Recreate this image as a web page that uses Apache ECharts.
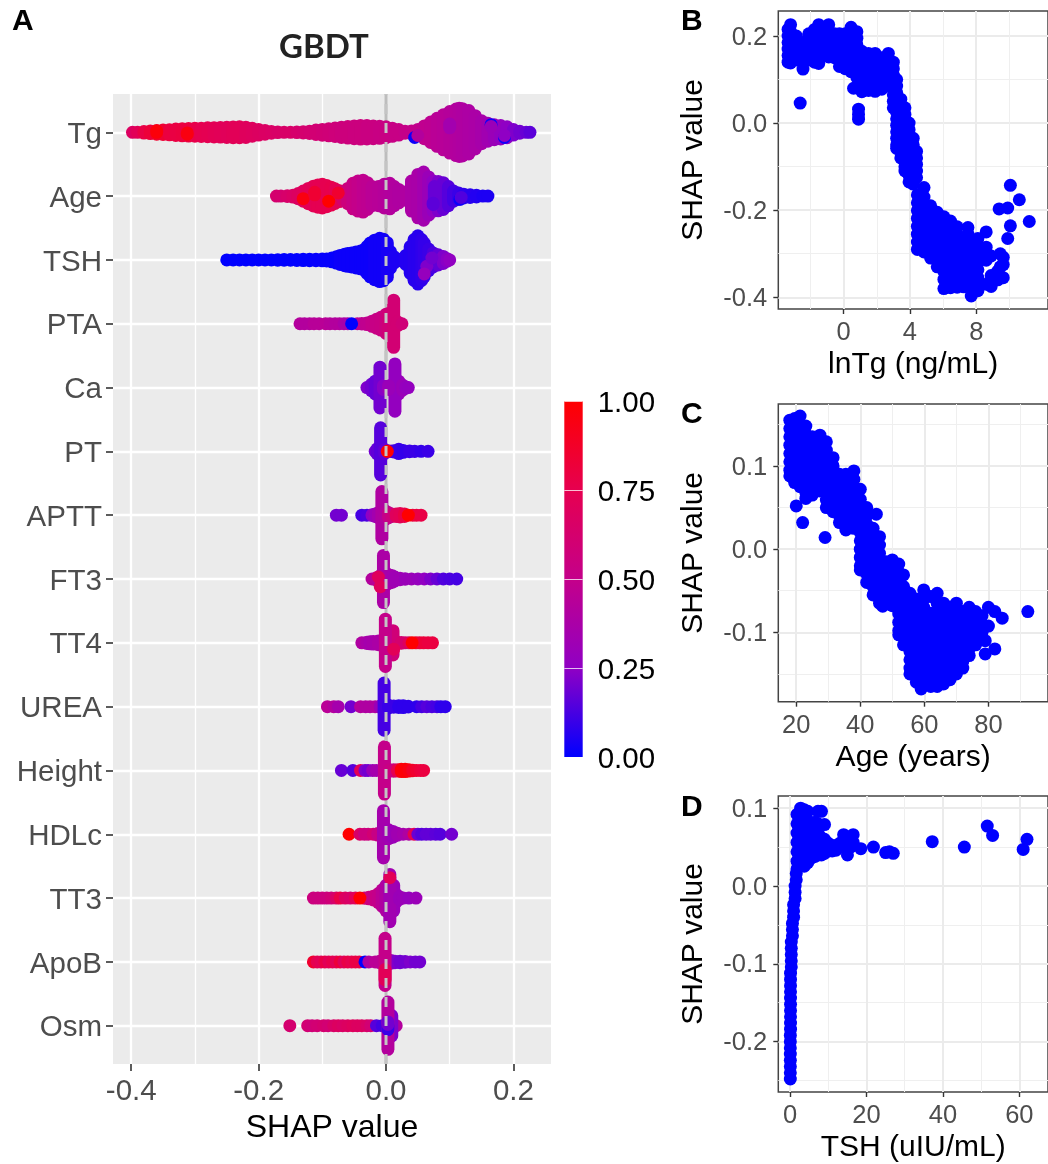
<!DOCTYPE html>
<html><head><meta charset="utf-8">
<style>html,body{margin:0;padding:0;background:#fff}#c{width:1048px;height:1164px}</style>
<script src="https://cdn.jsdelivr.net/npm/echarts@6/dist/echarts.min.js"></script>
</head><body><div id="c"></div>
<script>
// ---------- Panel A: features, top to bottom ----------
const features = ['Tg','Age','TSH','PTA','Ca','PT','APTT','FT3','TT4','UREA','Height','HDLc','TT3','ApoB','Osm'];
// each entry: [SHAP value, half spread of the swarm (row units), feature value 0..1, optional centre shift]
const swarmTg = [[-.398,0,.68],[-.39,0,.72],[-.38,.012,.78],[-.37,.02,.82],[-.36,.03,.86],[-.35,.035,.84],[-.34,.04,.8],[-.33,.05,.79],[-.32,.055,.8],[-.31,.06,.8],[-.30,.062,.77],[-.29,.065,.75],[-.28,.07,.74],[-.27,.072,.73],[-.26,.075,.72],[-.25,.08,.71],[-.24,.084,.72],[-.23,.086,.72],[-.22,.08,.7],[-.21,.062,.69],[-.20,.044,.68],[-.19,.03,.67],[-.18,.014,.66],[-.17,.005,.65],[-.16,0,.65],[-.15,0,.65],[-.14,.004,.63],[-.13,.01,.62],[-.12,.018,.61],[-.11,.034,.6],[-.10,.045,.59],[-.09,.055,.58],[-.08,.066,.57],[-.07,.08,.56],[-.06,.09,.56],[-.05,.1,.55],[-.04,.107,.55],[-.03,.105,.54],[-.02,.1,.54],[-.01,.094,.53],[0,.086,.53],[.01,.064,.52],[.02,.044,.52],[.03,.015,.51],[.04,.02,.5],[.05,.045,.49],[.06,.1,.48],[.07,.16,.47],[.08,.22,.45],[.09,.275,.44],[.10,.325,.43],[.11,.365,.42],[.115,.378,.41],[.12,.37,.4],[.13,.34,.39],[.14,.26,.38],[.15,.18,.36],[.16,.14,.33],[.17,.117,.3],[.18,.105,.27],[.19,.085,.25],[.20,.044,.22],[.21,.015,.2],[.22,0,.18],[.226,0,.16],[.045,0,.02,-.08],[.05,0,.42,-.05],[.165,0,.02,.12],[.165,0,.3,.09],[.186,0,.02,-.08],[.186,0,.25,-.05],[-.36,.01,.97,.01],[-.312,.01,.95,-.02],[.1,.03,.34,.1]];
const swarmAge = [[-.172,0,.62],[-.165,0,.62],[-.155,.005,.64],[-.146,.015,.66],[-.138,.04,.68],[-.13,.08,.7],[-.122,.12,.72],[-.114,.155,.73],[-.107,.175,.74],[-.10,.185,.74],[-.093,.165,.75],[-.086,.14,.76],[-.08,.115,.74],[-.073,.085,.7],[-.067,.07,.62],[-.06,.12,.56],[-.052,.2,.52],[-.044,.235,.5],[-.036,.25,.48],[-.029,.21,.47],[-.022,.15,.45],[-.012,.15,.44],[-.003,.185,.43],[.006,.2,.42],[.013,.15,.41],[.02,.105,.4],[.03,.065,.4],[.04,.235,.38],[.05,.34,.37],[.059,.378,.34],[.067,.3,.3],[.074,.235,.26],[.082,.23,.22],[.09,.21,.18],[.098,.15,.15],[.106,.08,.12],[.114,.05,.1],[.122,.03,.08],[.132,.02,.07],[.142,.013,.06],[.152,0,.05],[.16,0,.05],[-.09,0,1,-.08],[-.13,0,.95,-.04],[-.112,.02,.84,.04],[-.075,0,.85,.05],[.116,0,.02,-.05],[.118,0,.14,-.02],[.076,.1,.18,.05],[.074,.01,.16,-.12]];
const swarmTSH = [[-.25,0,0],[-.24,0,0],[-.23,0,0],[-.22,0,0],[-.21,0,0],[-.20,0,0],[-.19,0,0],[-.18,0,0],[-.17,.004,0],[-.16,.005,0],[-.15,.005,0],[-.14,.008,0],[-.13,.01,0],[-.12,.012,0],[-.11,.012,.01],[-.10,.014,.01],[-.093,.016,.01],[-.085,.03,.01],[-.078,.05,.01],[-.072,.07,.02],[-.065,.09,.02],[-.06,.1,.02],[-.054,.11,.02],[-.047,.125,.02],[-.04,.14,.02],[-.036,.15,.02],[-.03,.21,.02],[-.025,.265,.02],[-.018,.31,.03],[-.01,.34,.03],[-.004,.325,.03],[.002,.27,.04],[.007,.13,.04],[.012,.055,.05],[.018,.015,.05],[.025,0,.05],[.031,.07,.06],[.038,.21,.06],[.044,.32,.07],[.05,.378,.07],[.056,.32,.08],[.06,.265,.09],[.067,.17,.1],[.074,.11,.13],[.082,.08,.17],[.09,.055,.22],[.096,.02,.24],[.10,0,.26],[.064,0,.22,-.1],[.06,0,.28,-.22],[.072,0,.2,.03]];
const swarmPTA = [[-.135,0,.42],[-.128,0,.42],[-.12,0,.42],[-.113,0,.44],[-.105,0,.44],[-.095,0,.45],[-.088,0,.43],[-.08,0,.42],[-.073,0,.42],[-.066,0,.38],[-.06,0,.36],[-.045,0,.45],[-.038,.004,.47],[-.03,.013,.48],[-.022,.04,.5],[-.015,.07,.52],[-.008,.1,.53],[0,.15,.55],[.004,.16,.58],[.012,.37,.6],[.018,.03,.6],[.025,0,.58],[-.054,0,0]];
const swarmCa = [[-.03,0,.22],[-.023,.05,.2],[-.017,.1,.18],[-.0095,.32,.2],[-.004,.03,.24],[.02,.1,.3],[.014,.37,.27],[.026,.04,.3],[.031,.01,.28],[.035,0,.27],[.004,.03,.3]];
const swarmPT = [[-.017,0,.2],[-.014,.04,.17],[-.0085,.37,.15],[-.002,.03,.17],[.006,.004,.2],[.012,.01,.12],[.02,.035,.1],[.027,.015,.09],[.037,.005,.1],[.045,.002,.1],[.055,0,.09],[.066,0,.1],[.002,0,1]];
const swarmAPTT = [[-.078,0,.2],[-.07,0,.2],[-.038,0,.12],[-.03,0,.13],[-.022,.005,.25],[-.017,.02,.3],[-.012,.04,.34],[-.0065,.37,.4],[.0,.06,.42],[.004,.04,.5],[.009,.02,.55],[.016,.02,.7],[.022,.028,.72],[.029,.02,.78],[.042,0,.82],[.048,0,.8],[.055,0,.78],[.035,0,1]];
const swarmFT3 = [[-.022,0,.42],[-.015,.02,.45],[-.008,.06,.42],[-.004,.37,.38],[.002,.08,.36],[.006,.06,.36],[.01,.05,.34],[.014,.03,.32],[.022,.012,.32],[.03,.004,.3],[.04,0,.3],[.05,0,.28],[.06,0,.26],[.07,0,.22],[.08,0,.18],[.09,0,.14],[.1,0,.13],[.111,0,.12],[-.012,0,.7,.03],[-.009,0,.7,-.12]];
const swarmTT4 = [[-.038,0,.4],[-.03,.01,.37],[-.025,.016,.35],[-.02,.02,.36],[-.012,.03,.38],[.016,.02,.6],[.011,.19,.58],[-.001,.37,.5],[.024,.005,.62],[.03,0,.62],[.036,0,.7],[.047,0,.85],[.053,0,.82],[.059,0,.82],[.066,0,.8],[.073,0,.8],[.041,0,1],[.012,0,.72,-.1]];
const swarmUREA = [[-.092,0,.45],[-.082,0,.42],[-.075,0,.35],[-.055,0,.2],[-.04,0,.42],[-.032,0,.4],[-.025,0,.4],[-.017,0,.4],[-.009,.01,.3],[-.003,.37,.12],[.004,.02,.1],[.012,.01,.1],[.02,.012,.08],[.027,.015,.08],[.035,.005,.08],[.048,0,.08],[.056,0,.12],[.064,0,.15],[.072,0,.13],[.08,0,.12],[.086,0,.08],[.093,0,.08]];
const swarmHeight = [[-.07,0,.18],[-.052,0,.15],[-.04,0,.72],[-.033,0,.22],[-.028,0,.2],[-.021,0,.3],[-.015,0,.35],[-.0025,.37,.5],[.005,.01,.52],[.012,.012,.55],[.018,.01,.75],[.024,.018,.97],[.03,.018,.98],[.036,.01,.95],[.042,.005,.88],[.048,0,.85],[.054,0,.82],[.059,0,.8]];
const swarmHDLc = [[-.058,0,1],[-.041,0,.65],[-.034,0,.55],[-.028,0,.55],[-.02,0,.6],[-.013,.012,.52],[-.004,.37,.35],[.004,.07,.33],[.011,.045,.3],[.018,.015,.33],[.027,0,.35],[.036,0,.4],[.044,0,.75],[.05,0,.18],[.056,0,.15],[.063,0,.17],[.07,0,.17],[.078,0,.16],[.085,0,.15],[.103,0,.2]];
const swarmTT3 = [[-.114,0,.55],[-.107,0,.55],[-.1,0,.55],[-.093,0,.55],[-.086,0,.58],[-.078,0,.65],[-.072,0,.78],[-.064,0,.68],[-.056,0,.65],[-.048,0,.72],[-.034,.003,.58],[-.027,.012,.55],[-.02,.03,.52],[-.012,.07,.5],[-.006,.13,.45],[0,.2,.4],[.012,.2,.3],[.016,.06,.3],[.006,.37,.33],[.021,.02,.3],[.027,0,.3],[.036,0,.28],[.047,0,.3],[-.041,0,1],[.006,0,.72,.32]];
const swarmApoB = [[-.114,0,.85],[-.108,0,.75],[-.102,0,.72],[-.096,0,.78],[-.09,0,.72],[-.084,0,.76],[-.078,0,.72],[-.072,0,.82],[-.066,0,.7],[-.06,0,.78],[-.054,0,.75],[-.048,0,.78],[-.042,0,.78],[-.033,0,0],[-.027,0,.4],[-.017,0,.45],[-.01,.01,.45],[.008,.02,.3],[.014,.012,.22],[.022,.012,.2],[.03,.005,.2],[.038,0,.22],[.046,0,.2],[.053,0,.2],[-.0015,.37,.5],[-.0015,.08,.72,-.2]];
const swarmOsm = [[-.151,0,.62],[-.123,0,.6],[-.116,0,.58],[-.108,0,.6],[-.098,0,.62],[-.091,0,.6],[-.082,0,.65],[-.075,0,.68],[-.068,0,.66],[-.06,0,.68],[-.052,0,.7],[-.045,0,.68],[-.038,0,.68],[-.03,0,.65],[-.024,0,.6],[-.015,0,.15],[-.006,0,.12],[.016,0,.42],[.009,.16,.22],[.003,.37,.42],[.003,.03,.1,-.03],[.003,.02,.2,.04]];
const swarmRows = [swarmTg,swarmAge,swarmTSH,swarmPTA,swarmCa,swarmPT,swarmAPTT,swarmFT3,swarmTT4,swarmUREA,swarmHeight,swarmHDLc,swarmTT3,swarmApoB,swarmOsm];
const zeroLine = [[0,0.4],[0,15.6]];

// ---------- Panels B, C, D: [x, [SHAP values]] ----------
const pointsB = [[-3.35,[.215,.2,.185,.17,.155,.14]],[-3.2,[.226,.21,.195,.18,.165,.15,.138]],[-2.85,[.2,.185,.17,.155,.145]],[-2.45,[.185,.17,.155,.14,.124]],[-2.62,[.046]],[-2.1,[.205,.19,.175,.16,.145]],[-1.75,[.215,.2,.185,.17,.155,.14]],[-1.5,[.226,.21,.195,.18,.165,.15,.137]],[-1.15,[.215,.2,.185,.17,.155]],[-.9,[.226,.21,.195,.18,.165,.152]],[-.55,[.205,.19,.175,.16,.15]],[-.25,[.205,.19,.175,.16,.145,.13]],[.1,[.205,.19,.175,.16,.145,.13,.125]],[.45,[.22,.205,.19,.175,.16,.145,.13,.118]],[.8,[.21,.195,.18,.165,.15,.135,.12,.105]],[1.1,[.165,.15,.135,.12,.105,.09,.072]],[1.5,[.16,.145,.13,.115,.1,.085,.075]],[1.9,[.16,.145,.13,.115,.1,.085,.073]],[2.3,[.15,.135,.12,.105,.09,.078]],[.6,[.08]],[.9,[.032,.02,.009]],[2.7,[.16,.145,.13,.115,.1,.085]],[3.0,[.14,.125,.11,.095,.08,.065,.05,.035]],[3.2,[.1,.085,.07,.055,.04,.025,.01,-.005,-.02,-.035,-.05,-.058]],[3.45,[.055,.04,.025,.01,-.005,-.02,-.035,-.05,-.065,-.08]],[3.7,[.035,.02,.005,-.01,-.025,-.04,-.055,-.07,-.085,-.1,-.11]],[3.95,[0,-.015,-.03,-.045,-.06,-.075,-.09,-.105,-.12,-.135]],[4.2,[-.035,-.05,-.065,-.08,-.095,-.11,-.125,-.14]],[4.4,[-.065,-.08,-.095,-.11,-.125]],[4.45,[-.165,-.183,-.201,-.219,-.237,-.255,-.273,-.29]],[4.85,[-.148,-.17,-.188,-.206,-.224,-.242,-.26,-.278,-.296]],[5.25,[-.19,-.208,-.226,-.244,-.262,-.28,-.298,-.31]],[5.65,[-.205,-.223,-.241,-.259,-.277,-.295,-.313,-.33]],[6.05,[-.215,-.233,-.251,-.269,-.287,-.305,-.323,-.341,-.359,-.38]],[6.45,[-.225,-.243,-.261,-.279,-.297,-.315,-.333,-.351,-.369,-.378]],[6.85,[-.238,-.256,-.274,-.292,-.31,-.328,-.346,-.364,-.377]],[7.25,[-.27,-.288,-.306,-.324,-.342,-.36,-.376]],[7.5,[-.24,-.255]],[7.7,[-.27,-.288,-.306,-.324,-.342,-.36,-.378,-.397]],[8.1,[-.265,-.283,-.301,-.319,-.337,-.355,-.373,-.385]],[8.6,[-.25,-.285,-.3,-.315,-.37]],[8.9,[-.305,-.35,-.375]],[9.3,[-.36,-.34]],[9.45,[-.3,-.33]],[9.63,[-.308,-.325,-.355]],[10.06,[-.143,-.236]],[10.6,[-.176]],[9.38,[-.197]],[9.9,[-.195,-.265]],[11.2,[-.226]]];
const pointsC = [[18,[.155,.145,.135,.125,.115,.105,.095,.088]],[19.5,[.157,.147,.137,.127,.117,.107,.097,.087,.08]],[20,[.052]],[21.2,[.16,.15,.14,.13,.12,.11,.1,.09,.08,.075]],[22,[.032]],[23,[.148,.138,.128,.118,.108,.098,.088,.078,.068,.061]],[25,[.135,.125,.115,.105,.095,.085,.075,.065]],[27.4,[.137,.127,.117,.107,.097,.087,.077,.07]],[29.4,[.129,.119,.109,.099,.089,.079,.069,.059,.05]],[29,[.014]],[31.5,[.11,.1,.09,.08,.07,.06,.05,.045]],[33.5,[.09,.08,.07,.06,.05,.04,.032]],[35.5,[.09,.08,.07,.06,.05,.04,.03,.023]],[38,[.094,.084,.074,.064,.054,.044,.034,.025]],[40,[.072,.06,.05,.04,.03,.02,.01,0,-.01,-.02,-.025]],[42,[.05,.04,.03,.02,.01,0,-.01,-.02,-.03,-.04]],[44,[.025,.015,.005,-.005,-.015,-.025,-.035,-.045,-.055]],[45,[.042]],[46,[.015,.005,-.005,-.015,-.025,-.035,-.045,-.055,-.065]],[47,[-.0685]],[48,[-.015,-.025,-.035,-.045,-.055,-.065]],[50,[-.013,-.023,-.033,-.043,-.053,-.063,-.068]],[52,[-.018,-.028,-.038,-.048,-.058,-.068,-.078,-.088,-.098,-.103]],[53.5,[-.031,-.045,-.055,-.065,-.075,-.085,-.095,-.105,-.115]],[55.5,[-.053,-.063,-.073,-.083,-.093,-.103,-.113,-.123,-.133,-.143,-.15]],[57.5,[-.06,-.07,-.08,-.09,-.1,-.11,-.12,-.13,-.14,-.15,-.16]],[59,[-.168]],[59.8,[-.049,-.06,-.07,-.08,-.09,-.1,-.11,-.12,-.13,-.14,-.15,-.16]],[62,[-.057,-.077,-.087,-.097,-.107,-.117,-.127,-.137,-.147,-.157,-.165]],[64,[-.053,-.065,-.075,-.085,-.095,-.105,-.115,-.125,-.135,-.145,-.155,-.165]],[66,[-.065,-.075,-.085,-.095,-.105,-.115,-.125,-.135,-.145,-.155,-.162]],[68,[-.07,-.08,-.09,-.1,-.11,-.12,-.13,-.14,-.15,-.157]],[70,[-.065,-.075,-.085,-.095,-.105,-.115,-.125,-.135,-.145,-.15]],[72,[-.075,-.085,-.095,-.105,-.115,-.125,-.135,-.143]],[74,[-.07,-.08,-.09,-.1,-.11,-.12,-.128]],[76,[-.075,-.085,-.095,-.105,-.115]],[78,[-.08,-.09,-.1,-.107]],[79,[-.11,-.126]],[82,[-.12,-.075]],[80,[-.07,-.0925]],[84.3,[-.083]],[92.3,[-.075]]];
const pointsD = [[.05,[-.248,-.24,-.232,-.224,-.216,-.208,-.2,-.192]],[.1,[-.184,-.176,-.168,-.16,-.152,-.144,-.136,-.128,-.12,-.112]],[.3,[-.104,-.096,-.088,-.08,-.072]],[.6,[-.064,-.056,-.048]],[.9,[-.04,-.032,-.024]],[1.3,[-.016,-.008,0]],[1.6,[.008,.016]],[1.8,[.092,.08,.068,.056,.044,.032,.022]],[2.75,[.1,.088,.076,.064,.052,.04,.028]],[3.7,[.098,.086,.074,.062,.05,.038,.0255]],[4.6,[.096,.084,.072,.06,.048,.036,.03]],[5.6,[.08,.068,.056,.044,.036]],[6.5,[.082,.07,.058,.046,.038]],[7.3,[.096,.08,.068,.056,.045,.04]],[8.2,[.096,.062,.05,.04]],[9,[.079,.06,.05,.042]],[10,[.055,.05,.045]],[11,[.052,.045]],[12,[.052,.046]],[13,[.055,.05]],[14,[.066,.055,.05]],[15,[.06,.05,.04]],[15.8,[.058,.05]],[16.5,[.066,.056]],[18.5,[.048]],[21.8,[.05]],[25,[.043]],[26,[.044]],[27,[.042]],[37.2,[.057]],[45.6,[.05]],[51.6,[.077]],[53,[.065]],[62,[.06]],[61,[.047]]];

// ---------- Ticks ----------
const ticksA = {x:[-.4,-.2,0,.2], xMinor:[-.3,-.1,.1]};
const ticksB = {x:[0,4,8], xMinor:[-2,2,6,10], y:[.2,0,-.2,-.4], yMinor:[.1,-.1,-.3]};
const ticksC = {x:[20,40,60,80], xMinor:[30,50,70,90], y:[.1,0,-.1], yMinor:[.15,.05,-.05,-.15]};
const ticksD = {x:[0,20,40,60], xMinor:[10,30,50], y:[.1,0,-.1,-.2], yMinor:[.05,-.05,-.15,-.25]};
const legendTicks = [0,.25,.5,.75,1];
const ramp = ['#0000FF','#9000C4','#C4008A','#E60050','#FF0000'];

const FONT = 'Liberation Sans';
const flatten = cols => cols.flatMap(([x,ys]) => ys.map(y => [x,y]));
const swarmData = swarmRows.flatMap((rows,i) => rows.map(r => [r[0],15-i,r[2],r[1],r[3]||0]));

const R = 6.5;
function renderSwarm(params, api){
  const x=api.value(0), row=api.value(1), h=api.value(3), off=api.value(4);
  const t=api.coord([x,row+off+h]), b=api.coord([x,row+off-h]);
  return {type:'rect',shape:{x:t[0]-R,y:t[1]-R,width:2*R,height:b[1]-t[1]+2*R,r:R},style:{fill:api.visual('color')}};
}

const grids=[], xAxes=[], yAxes=[], series=[];
function minorAxis(gridIndex,min,max,vals,color,width,pos){
  return {type:'value',gridIndex,min,max,position:pos,silent:true,
    axisLine:{show:false},axisLabel:{show:false},
    axisTick:{show:false,customValues:vals},
    splitLine:{show:true,lineStyle:{color,width}}};
}
// labels that sit a little below the tick, as in the reference, go through a rich token with top padding
function labelStyle(vals,fmt,size,color,margin,drop){
  const base={fontFamily:FONT,fontSize:size,color};
  const common={show:true,customValues:vals,margin,hideOverlap:false,showMinLabel:true,showMaxLabel:true,...base};
  if(!drop) return {...common,formatter:fmt};
  return {...common,formatter:v=>'{t|'+fmt(v)+'}',rich:{t:{...base,padding:[drop,0,0,0]}}};
}
function majorAxis(gridIndex,min,max,vals,fmt,o){
  return {type:'value',gridIndex,min,max,position:o.pos,
    name:o.name,nameLocation:'middle',nameGap:o.gap,
    nameTextStyle:{fontFamily:FONT,fontSize:o.nameSize,color:'#000'},
    axisLine:{show:false,onZero:false},
    axisTick:{show:true,length:o.tick,lineStyle:{color:'#333',width:o.tickW},customValues:vals},
    axisLabel:labelStyle(vals,fmt,o.size,'#4D4D4D',o.margin,o.drop),
    splitLine:{show:true,lineStyle:{color:o.grid,width:o.gridW}}};
}
const fix1 = v => v.toFixed(1);

// Panel A
grids.push({left:113,top:94,width:438,height:970,show:true,backgroundColor:'#EBEBEB',borderWidth:0});
xAxes.push(minorAxis(0,-.4286,.259,ticksA.xMinor,'#fff',1.3,'bottom'));
yAxes.push(majorAxis(0,.4,15.6,features.map((_,i)=>15-i),v=>features[15-v],{pos:'left',gap:0,nameSize:10,tick:7,tickW:1.6,size:29.5,margin:11,drop:5,grid:'#fff',gridW:2.3}));
const axA=xAxes.length;
xAxes.push(majorAxis(0,-.4286,.259,ticksA.x,fix1,{pos:'bottom',name:'SHAP value',gap:42,nameSize:32,tick:7,tickW:1.6,size:29.5,margin:13,grid:'#fff',gridW:2.3}));

series.push({type:'line',xAxisIndex:axA,yAxisIndex:0,data:zeroLine,showSymbol:false,silent:true,z:1,lineStyle:{color:'#BDBDBD',width:3}});
series.push({type:'custom',xAxisIndex:axA,yAxisIndex:0,data:swarmData,renderItem:renderSwarm,encode:{x:0,y:1},dimensions:['shap','row','value','spread','shift'],z:2,silent:true});
series.push({type:'line',xAxisIndex:axA,yAxisIndex:0,data:zeroLine,showSymbol:false,silent:true,z:3,lineStyle:{color:'#C4C4C4',width:3,type:[10,9]}});

// Panels B, C, D
const panels=[
 {top:11,h:298,xr:[-3.94,12.33],yr:[-.4269,.2574],t:ticksB,xn:'lnTg (ng/mL)',pts:pointsB,xf:String},
 {top:404,h:297.7,xr:[14.4,98.6],yr:[-.1834,.1745],t:ticksC,xn:'Age (years)',pts:pointsC,xf:String},
 {top:796,h:298,xr:[-3.1,67.5],yr:[-.2647,.1157],t:ticksD,xn:'TSH (uIU/mL)',pts:pointsD,xf:String}
];
panels.forEach((p,k)=>{
  const g=k+1;
  grids.push({left:778.3,top:p.top,width:282,height:p.h,show:true,backgroundColor:'#fff',borderColor:'#444',borderWidth:1.5});
  xAxes.push(minorAxis(g,p.xr[0],p.xr[1],p.t.xMinor,'#EFEFEF',1,'bottom'));
  yAxes.push(minorAxis(g,p.yr[0],p.yr[1],p.t.yMinor,'#EFEFEF',1,'left'));
  const xi=xAxes.length, yi=yAxes.length;
  xAxes.push(majorAxis(g,p.xr[0],p.xr[1],p.t.x,p.xf,{pos:'bottom',name:p.xn,gap:41,nameSize:30,tick:5,tickW:1.4,size:25.5,margin:11,grid:'#EBEBEB',gridW:2}));
  yAxes.push(majorAxis(g,p.yr[0],p.yr[1],p.t.y,fix1,{pos:'left',name:'SHAP value',gap:70,nameSize:30,tick:5,tickW:1.4,size:25.5,margin:11,drop:3,grid:'#EBEBEB',gridW:2}));
  series.push({type:'scatter',xAxisIndex:xi,yAxisIndex:yi,data:flatten(p.pts),symbolSize:13,itemStyle:{color:'#0000FF',opacity:1},silent:true,z:2});
});

// Colour bar
const g=grids.length;
grids.push({left:564.3,top:401,width:18.4,height:356,show:false});
xAxes.push({type:'category',gridIndex:g,data:['v'],show:false});
yAxes.push({type:'value',gridIndex:g,min:0,max:1,position:'right',z:5,
  axisLine:{show:false},splitLine:{show:false},
  axisTick:{show:true,inside:true,length:18.4,lineStyle:{color:'rgba(255,255,255,.75)',width:1},customValues:legendTicks},
  axisLabel:labelStyle(legendTicks,v=>v.toFixed(2),29.5,'#000',15,5)});
series.push({type:'bar',xAxisIndex:xAxes.length-1,yAxisIndex:yAxes.length-1,data:[1],barWidth:'100%',silent:true,
  itemStyle:{color:new echarts.graphic.LinearGradient(0,1,0,0,ramp.map((c,i)=>({offset:i/(ramp.length-1),color:c})))}});

const letter=(text,left,top)=>({text,left,top,padding:0,textStyle:{fontFamily:FONT,fontWeight:'bold',fontSize:30,color:'#000'}});
const chart=echarts.init(document.getElementById('c'),null,{renderer:'canvas'});
chart.setOption({
  animation:false,backgroundColor:'#fff',
  title:[letter('A',12,7),letter('B',681,7),letter('C',681,400),letter('D',681,793),
    {text:'GBDT',left:279,top:31,padding:0,textStyle:{fontFamily:'Lato',fontWeight:'bold',fontSize:33,color:'#222'}}],
  grid:grids,xAxis:xAxes,yAxis:yAxes,
  visualMap:{show:false,type:'continuous',min:0,max:1,dimension:2,seriesIndex:1,inRange:{color:ramp}},
  series
});
</script></body></html>
